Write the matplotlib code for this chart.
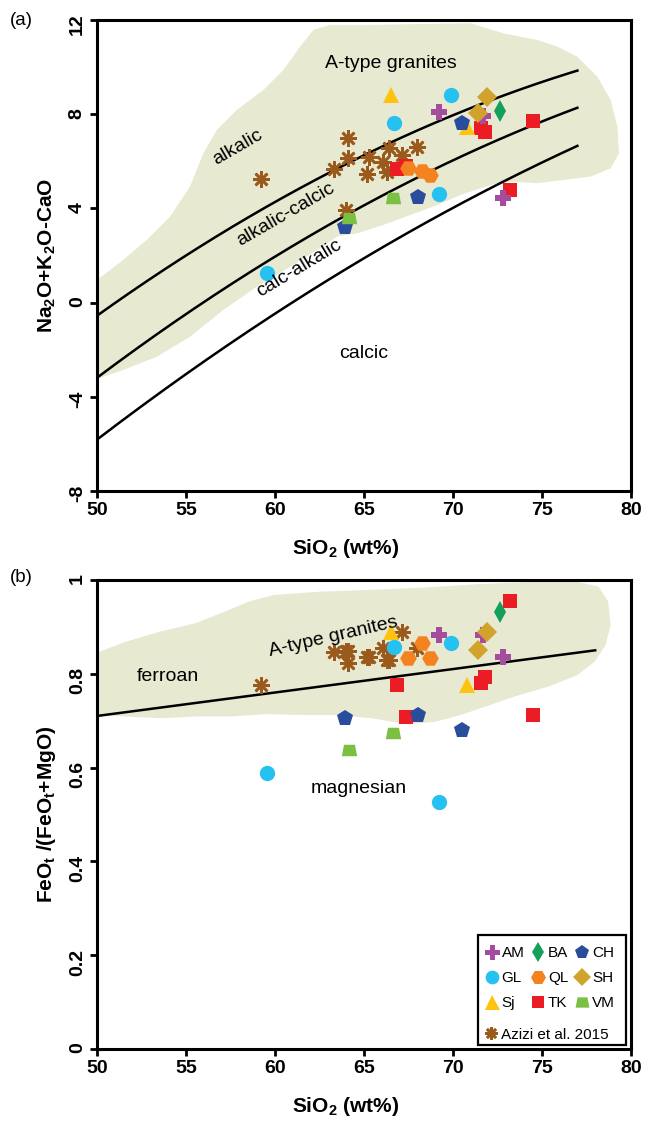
import numpy as np
import matplotlib.pyplot as plt
from matplotlib.patches import Polygon, Rectangle

plt.rcParams['font.family'] = ['Liberation Sans', 'DejaVu Sans']
plt.rcParams['mathtext.default'] = 'regular'
plt.rcParams['axes.unicode_minus'] = False

# sample groups: SiO2 (wt%), Na2O+K2O-CaO, FeOt/(FeOt+MgO)
am_si = [69.2, 71.7, 72.8]
am_mali = [8.11, 7.92, 4.43]
am_fe = [0.883, 0.883, 0.836]

ba_si = [72.65]
ba_mali = [8.15]
ba_fe = [0.932]

ch_si = [63.95, 68.05, 70.5]
ch_mali = [3.21, 4.50, 7.64]
ch_fe = [0.705, 0.712, 0.680]

gl_si = [59.55, 66.7, 69.2, 69.9]
gl_mali = [1.24, 7.64, 4.60, 8.82]
gl_fe = [0.588, 0.858, 0.527, 0.865]

ql_si = [67.5, 68.25, 68.7]
ql_mali = [5.70, 5.60, 5.42]
ql_fe = [0.833, 0.865, 0.834]

sh_si = [71.4, 71.9]
sh_mali = [8.04, 8.74]
sh_fe = [0.851, 0.890]

sj_si = [66.5, 70.8]
sj_mali = [8.82, 7.47]
sj_fe = [0.890, 0.776]

tk_si = [66.85, 67.35, 71.6, 71.8, 73.2, 74.5]
tk_mali = [5.66, 5.80, 7.40, 7.26, 4.80, 7.70]
tk_fe = [0.775, 0.708, 0.781, 0.794, 0.956, 0.712]

vm_si = [64.15, 66.65]
vm_mali = [3.59, 4.43]
vm_fe = [0.638, 0.673]

az_si = [59.2, 63.3, 64.0, 64.1, 64.1, 65.2, 65.3, 66.1, 66.3, 66.4, 67.15, 68.0]
az_mali = [5.24, 5.66, 3.93, 6.98, 6.13, 5.46, 6.17, 5.98, 5.56, 6.55, 6.27, 6.62]
az_fe = [0.775, 0.847, 0.849, 0.849, 0.822, 0.836, 0.836, 0.854, 0.829, 0.829, 0.890, 0.854]

# MALI boundaries (Frost et al. 2001): c0 + c1*SiO2 + c2*SiO2^2
alk_coef = [-41.86, 1.112, -0.00572]
alkcal_coef = [-44.72, 1.094, -0.00527]
calalk_coef = [-45.36, 1.0043, -0.00427]
# ferroan / magnesian boundary: c0 + c1*SiO2
fe_coef = [0.46, 0.005]

# A-type granite fields
field_a_x = [50.0, 51.48, 52.80, 54.11, 55.23, 55.98, 56.74, 57.86, 59.36, 60.48, 61.42, 62.17,
             63.11, 65.36, 70.99, 72.86, 74.74, 75.87, 76.99, 78.12, 78.87, 79.25, 79.34, 78.87,
             77.74, 76.24, 74.74, 73.43, 72.49, 71.55, 70.43, 69.12, 67.61, 66.11, 64.61, 63.49,
             62.36, 60.86, 58.99, 57.11, 55.23, 53.36, 51.48, 50.0]
field_a_y = [0.96, 1.81, 2.66, 3.65, 4.92, 6.34, 7.33, 8.18, 9.03, 9.88, 10.87, 11.58,
             11.79, 11.79, 11.86, 11.43, 11.15, 10.87, 10.44, 9.59, 8.60, 7.47, 6.34, 5.70,
             5.35, 5.21, 5.07, 5.13, 5.07, 4.85, 4.57, 4.14, 3.72, 3.30, 2.94, 2.80,
             2.23, 1.52, 0.68, -0.31, -1.45, -2.30, -2.86, -3.25]
field_b_x = [50.0, 51.59, 53.57, 55.56, 57.15, 58.54, 59.93, 62.50, 65.48, 68.46, 71.43, 74.41,
             76.99, 78.18, 78.73, 78.87, 78.58, 77.98, 76.99, 75.40, 73.42, 71.83, 70.44, 69.05,
             67.46, 65.48, 63.50, 61.51, 59.53, 57.54, 55.56, 53.57, 51.59, 50.0]
field_b_y = [0.845, 0.868, 0.890, 0.908, 0.932, 0.954, 0.968, 0.975, 0.979, 0.984, 0.991, 0.996,
             0.996, 0.986, 0.954, 0.904, 0.861, 0.826, 0.797, 0.773, 0.751, 0.730, 0.712, 0.698,
             0.692, 0.705, 0.712, 0.712, 0.714, 0.709, 0.709, 0.705, 0.709, 0.712]

field_col = '#e7e9d1'
trap = [(-1, -0.75), (1, -0.75), (0.72, 0.75), (-0.72, 0.75)]

# (label, marker, color, size, x, y_a, y_b)
groups = [
    ('Azizi et al. 2015', (8, 2, 0), '#9a5a1c', 12, az_si, az_mali, az_fe),
    ('TK', 's', '#ec1c24', 10, tk_si, tk_mali, tk_fe),
    ('QL', 'H', '#f58220', 12, ql_si, ql_mali, ql_fe),
    ('GL', 'o', '#27c1f1', 11, gl_si, gl_mali, gl_fe),
    ('AM', 'P', '#a54c9e', 12, am_si, am_mali, am_fe),
    ('SH', 'D', '#d1a22c', 10, sh_si, sh_mali, sh_fe),
    ('BA', 'd', '#12a05a', 11, ba_si, ba_mali, ba_fe),
    ('Sj', '^', '#ffc20f', 12, sj_si, sj_mali, sj_fe),
    ('CH', 'p', '#2a4c9c', 12, ch_si, ch_mali, ch_fe),
    ('VM', trap, '#7bbf43', 11, vm_si, vm_mali, vm_fe),
]

fig = plt.figure(figsize=(6.55, 11.22), dpi=100)
ax1 = fig.add_axes([0.148, 0.5624, 0.815, 0.4198])
ax2 = fig.add_axes([0.148, 0.0651, 0.815, 0.418])


def style_axes(ax):
    for s in ax.spines.values():
        s.set_linewidth(2.2)
    ax.tick_params(direction='out', length=5, width=2, labelsize=14, pad=3)
    ax.tick_params(axis='y', labelrotation=90)
    for lab in ax.get_xticklabels() + ax.get_yticklabels():
        lab.set_fontweight('bold')
    ax.set_xlim(50, 80)
    ax.set_xticks([50, 55, 60, 65, 70, 75, 80])
    ax.set_xlabel('SiO$_2$ (wt%)', fontsize=15, fontweight='bold')
    ax.xaxis.set_label_coords(0.465, -0.098)


handles = {}
# --- (a) MALI diagram
ax1.add_patch(Polygon(np.column_stack([field_a_x, field_a_y]), closed=True,
                      facecolor=field_col, edgecolor='none', zorder=0))
xs = np.linspace(50, 77, 200)
for c in (alk_coef, alkcal_coef, calalk_coef):
    ax1.plot(xs, c[0] + c[1] * xs + c[2] * xs ** 2, color='black', lw=1.8, zorder=2)

for lab, m, col, ms, x, ya, yb in groups:
    kw = dict(ls='none', marker=m, ms=ms, color=col, mec=col, zorder=3)
    if lab.startswith('Azizi'):
        kw.update(mew=1.9)
    else:
        kw.update(mew=0)
    ax1.plot(x, ya, **kw)
    h, = ax2.plot(x, yb, **kw)
    handles[lab] = h

ax1.set_ylim(-8, 12)
ax1.set_yticks([-8, -4, 0, 4, 8, 12])
style_axes(ax1)
ax1.set_ylabel('Na$_2$O+K$_2$O-CaO', fontsize=15, fontweight='bold', labelpad=8)

ax1.text(66.5, 10.15, 'A-type granites', fontsize=14, ha='center', va='center')
ax1.text(57.9, 6.6, 'alkalic', fontsize=14, ha='center', va='center', rotation=30)
ax1.text(60.6, 3.75, 'alkalic-calcic', fontsize=14, ha='center', va='center', rotation=30)
ax1.text(61.35, 1.45, 'calc-alkalic', fontsize=14, ha='center', va='center', rotation=31)
ax1.text(65.0, -2.15, 'calcic', fontsize=14, ha='center', va='center')
fig.text(0.015, 0.982, '(a)', fontsize=13.5, va='center')

# --- (b) Fe-number diagram
ax2.add_patch(Polygon(np.column_stack([field_b_x, field_b_y]), closed=True,
                      facecolor=field_col, edgecolor='none', zorder=0))
xf = np.array([50, 78])
ax2.plot(xf, fe_coef[0] + fe_coef[1] * xf, color='black', lw=1.8, zorder=2)
ax2.set_ylim(0, 1)
ax2.set_yticks([0, 0.2, 0.4, 0.6, 0.8, 1])
ax2.set_yticklabels(['0', '0.2', '0.4', '0.6', '0.8', '1'])
style_axes(ax2)
ax2.set_ylabel('FeO$_t$ /(FeO$_t$+MgO)', fontsize=15, fontweight='bold', labelpad=8)

ax2.text(63.3, 0.878, 'A-type granites', fontsize=14, ha='center', va='center', rotation=13)
ax2.text(54.0, 0.795, 'ferroan', fontsize=14, ha='center', va='center')
ax2.text(64.7, 0.556, 'magnesian', fontsize=14, ha='center', va='center')
fig.text(0.015, 0.485, '(b)', fontsize=13.5, va='center')

# legend: 3x3 grid plus the reference data row, one frame round both
order = ['AM', 'GL', 'Sj', 'BA', 'QL', 'TK', 'CH', 'SH', 'VM']
leg1 = ax2.legend([handles[k] for k in order], order, ncol=3, loc='upper left',
                  bbox_to_anchor=(0.705, 0.243), frameon=False, fontsize=11,
                  handlelength=0.9, handletextpad=0.2, columnspacing=0.45,
                  labelspacing=0.72, borderpad=0.25, markerscale=0.9)
ax2.add_artist(leg1)
ax2.legend([handles['Azizi et al. 2015']], ['Azizi et al. 2015'], loc='upper left',
           bbox_to_anchor=(0.705, 0.068), frameon=False, fontsize=11,
           handlelength=0.9, handletextpad=0.2, borderpad=0.2, markerscale=0.75)
ax2.add_patch(Rectangle((0.713, 0.008), 0.278, 0.236, transform=ax2.transAxes,
                        fill=False, lw=1.6, ec='black', zorder=5))

fig.savefig('out.png', dpi=100)
